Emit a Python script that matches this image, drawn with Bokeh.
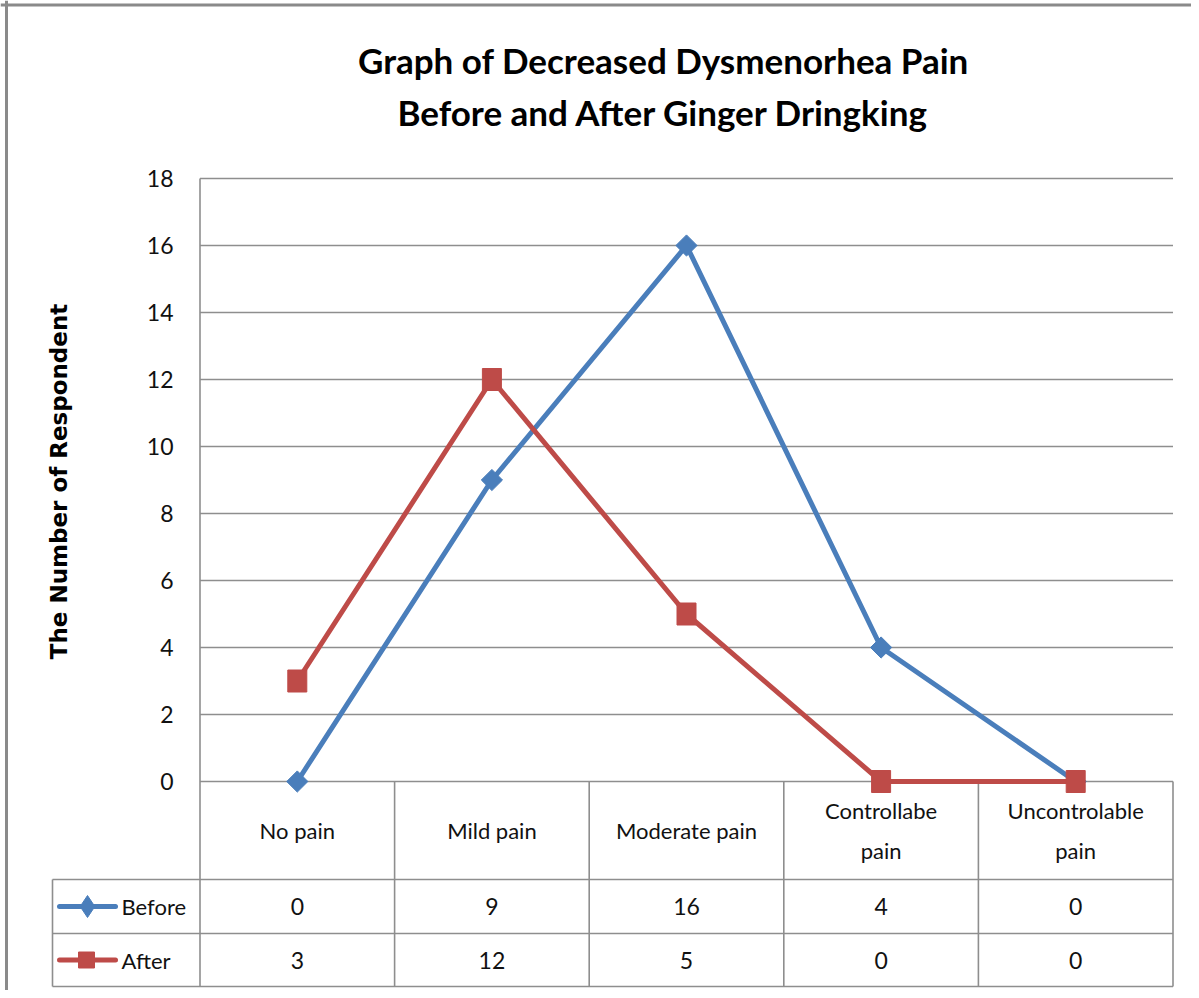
import math
from bokeh.plotting import figure
from bokeh.models import Range1d
from bokeh.core.properties import value
from bokeh.embed import file_html
from bokeh.resources import INLINE

# ---------------- data ----------------
title_lines = ["Graph of Decreased Dysmenorhea Pain", "Before and After Ginger Dringking"]
y_label = "The Number of Respondent"
categories = ["No pain", "Mild pain", "Moderate pain", "Controllabe pain", "Uncontrolable pain"]
category_labels = ["No pain", "Mild pain", "Moderate pain", "Controllabe\npain", "Uncontrolable\npain"]
series_names = ["Before", "After"]
before = [0, 9, 16, 4, 0]
after = [3, 12, 5, 0, 0]
y_ticks = [0, 2, 4, 6, 8, 10, 12, 14, 16, 18]

# ---------------- layout (pixels) ----------------
W, H = 1191, 990
CAT0, CAT_W = 296.8, 194.6     # first category centre, category width
Y0, PX_UNIT = 781.0, 33.5      # y=0 position, pixels per unit


def X(px):
    return (px - CAT0) / CAT_W


def Y(py):
    return (Y0 - py) / PX_UNIT


BLUE = "#4A7EBB"
RED = "#BE4B48"
GRID = "#8e8e8e"
TXT = "#111111"
FONT = "Lato"

p = figure(width=W, height=H,
           x_range=Range1d(X(0), X(W)),
           y_range=Range1d(Y(H), Y(0)),
           output_backend="svg", toolbar_location=None,
           x_axis_location=None, y_axis_location=None, min_border=0)
p.xgrid.visible = False
p.ygrid.visible = False
p.outline_line_color = None
p.background_fill_color = "white"
p.border_fill_color = "white"

n = len(categories)
xs = list(range(n))
x_left, x_right = -0.5, n - 0.5

# outer frame (top and left)
p.segment(x0=[X(0), X(6)], y0=[Y(4.5), Y(0)],
          x1=[X(W), X(6)], y1=[Y(4.5), Y(H)],
          line_color="#8a8a8a", line_width=3)

# horizontal gridlines
p.segment(x0=[x_left] * len(y_ticks), y0=y_ticks,
          x1=[x_right] * len(y_ticks), y1=y_ticks,
          line_color=GRID, line_width=1.6)

# table geometry
y_head = Y(879)
y_row1 = Y(933)
y_row2 = Y(986)
x_leg = X(52)
row_lines = [y_head, y_row1, y_row2]
p.segment(x0=[x_leg] * 3, y0=row_lines, x1=[x_right] * 3, y1=row_lines,
          line_color=GRID, line_width=1.6)
# verticals
p.segment(x0=[x_left], y0=[max(y_ticks)], x1=[x_left], y1=[y_row2],
          line_color=GRID, line_width=1.6)
bounds = [i + 0.5 for i in range(n)]
p.segment(x0=bounds, y0=[0] * n, x1=bounds, y1=[y_row2] * n,
          line_color=GRID, line_width=1.6)
p.segment(x0=[x_leg], y0=[y_head], x1=[x_leg], y1=[y_row2],
          line_color=GRID, line_width=1.6)

# series lines and markers
p.line(xs, before, line_color=BLUE, line_width=5, line_join="round", line_cap="round")
p.scatter(xs, before, marker="square", angle=math.pi / 4, size=15,
          fill_color=BLUE, line_color=BLUE)
p.line(xs, after, line_color=RED, line_width=5, line_join="round", line_cap="round")
p.rect(xs, after, width=19, height=22, width_units="screen", height_units="screen",
       fill_color=RED, line_color=RED)

# y tick labels
p.text(x=[X(173)] * len(y_ticks), y=y_ticks, text=[str(t) for t in y_ticks],
       text_font=value(FONT), text_font_size=value("23px"), text_color=TXT,
       text_align="right", text_baseline="middle")

# y axis title
p.text(x=[X(58)], y=[Y(481)], text=[y_label], angle=math.pi / 2,
       text_font=value("DejaVu Sans"), text_font_style="bold",
       text_font_size=value("23px"), text_color="#000000",
       text_align="center", text_baseline="middle")

# chart title
p.text(x=[X(663)] * 2, y=[Y(59), Y(111)], text=title_lines,
       text_font=value(FONT), text_font_style="bold", text_font_size=value("35px"),
       text_color="#000000", text_align="center", text_baseline="middle")

# category labels in header row
p.text(x=xs, y=[(0 + y_head) / 2] * n, text=category_labels,
       text_font=value(FONT), text_font_size=value("22px"), text_color=TXT,
       text_align="center", text_baseline="middle", text_line_height=1.45)

# table values
r1 = (y_head + y_row1) / 2
r2 = (y_row1 + y_row2) / 2
p.text(x=xs, y=[r1] * n, text=[str(v) for v in before],
       text_font=value(FONT), text_font_size=value("23px"), text_color=TXT,
       text_align="center", text_baseline="middle")
p.text(x=xs, y=[r2] * n, text=[str(v) for v in after],
       text_font=value(FONT), text_font_size=value("23px"), text_color=TXT,
       text_align="center", text_baseline="middle")

# legend keys inside table
p.segment(x0=[X(59)] * 2, y0=[r1, r2], x1=[X(115)] * 2, y1=[r1, r2],
          line_color=[BLUE, RED], line_width=5, line_cap="round")
p.scatter([X(87)], [r1], marker="diamond", size=22, fill_color=BLUE, line_color=BLUE)
p.scatter([X(86)], [r2], marker="square", size=16, fill_color=RED, line_color=RED)
p.text(x=[X(121)] * 2, y=[r1, r2], text=series_names,
       text_font=value(FONT), text_font_size=value("22px"), text_color=TXT,
       text_align="left", text_baseline="middle")

open("out.html", "w").write(file_html(p, INLINE))
